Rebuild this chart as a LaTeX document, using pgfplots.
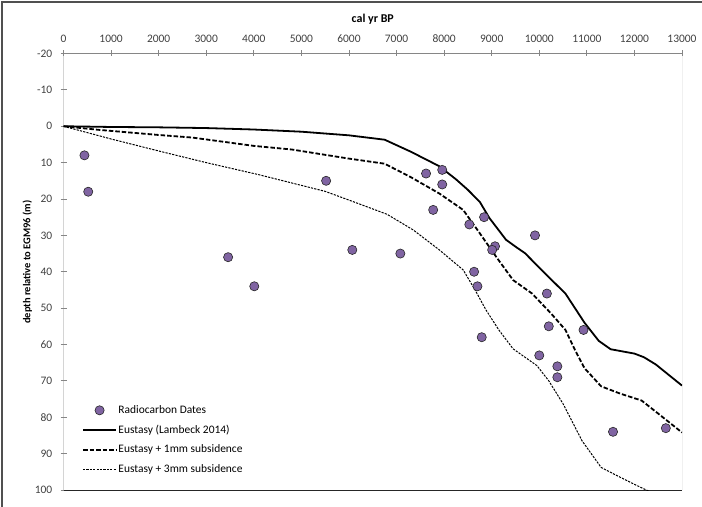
\documentclass[border=0pt]{standalone}
\usepackage{pgfplots}
\pgfplotsset{compat=1.18}
\usepackage{fontspec}
\setmainfont{Carlito}

\definecolor{dotfill}{RGB}{128,100,162}
\definecolor{ticktext}{RGB}{64,64,64}
\definecolor{axisgray}{RGB}{134,134,134}
\definecolor{framegray}{RGB}{80,80,80}

\pgfplotsset{
  lineleg/.style={legend image code/.code={\draw[##1] (0bp,0bp) -- (33bp,0bp);}},
  markleg/.style={legend image code/.code={\draw[##1] plot coordinates {(16.5bp,0bp)};}},
}

% radiocarbon dates: age (cal yr BP) and depth (m)
\pgfplotstableread{
age depth
440 8
520 18
3460 36
4010 44
5520 15
6070 34
7080 35
7620 13
7960 12
7960 16
7770 23
8530 27
8840 25
9070 33
9010 34
9910 30
8630 40
8700 44
10160 46
10200 55
10930 56
8790 58
10000 63
10380 66
10380 69
11550 84
12660 83
}\dates

% Lambeck (2014) eustatic curve
\pgfplotstableread{
age depth
0 0
1000 0.2
2000 0.3
3000 0.5
4000 0.9
5000 1.5
6000 2.5
6750 3.7
7300 7.0
7900 11.0
8250 14.6
8500 17.5
8750 20.8
8950 25.2
9300 31.2
9500 33.1
9700 34.9
10100 40.2
10550 46.0
10950 54.0
11250 59.0
11500 61.3
12000 62.5
12200 63.5
12450 65.5
13000 71.3
}\eustasy

% eustasy plus 1 mm/yr subsidence
\pgfplotstableread{
age depth
0 0
750 1.0
2000 2.4
2700 3.1
4000 5.4
4800 6.4
6000 8.9
6750 10.3
7300 14.0
7900 18.5
8400 23.0
8700 28.5
9100 36.0
9450 42.3
9850 46.0
10250 51.5
10550 56.0
10750 61.5
10950 66.5
11300 71.5
11700 73.5
12150 75.4
12500 79.0
13000 84.2
}\subsone

% eustasy plus 3 mm/yr subsidence
\pgfplotstableread{
age depth
0 0
1000 3.5
2000 6.8
3000 10.0
4100 13.3
5500 17.9
6000 20.3
6800 24.2
7350 28.5
7900 34.0
8400 39.5
8650 45.0
8880 50.5
9150 56.0
9450 61.2
9700 63.5
9950 65.8
10200 70.0
10500 76.3
10900 86.5
11300 93.8
11700 96.5
12150 99.4
12300 100.3
}\substhree

\begin{document}
\begin{tikzpicture}[x=1bp,y=1bp]
\path[use as bounding box] (0,0) rectangle (702,507);
% chart frame
\draw[framegray, line width=1.2bp] (2,0) -- (2,505) -- (702,505);

\begin{axis}[
  at={(63.5bp,17bp)}, anchor=south west,
  width=618.5bp, height=436.5bp, scale only axis,
  xmin=0, xmax=13000, ymin=-20, ymax=100,
  y dir=reverse,
  xtick={0,1000,...,13000}, ytick={-20,-10,...,100},
  xticklabel pos=upper, xtick pos=upper, ytick pos=left,
  scaled x ticks=false,
  /pgf/number format/assume math mode=true,
  /pgf/number format/1000 sep={},
  tick align=center, major tick length=6bp,
  tick style={axisgray, line width=0.9bp},
  axis line style={draw=none},
  ticklabel style={font=\fontsize{11.5}{13}\selectfont, text=ticktext},
  xticklabel style={inner sep=0pt, anchor=south, yshift=8bp},
  yticklabel style={inner sep=0pt, anchor=east, xshift=-8bp},
  xlabel={cal yr BP},
  xlabel style={font=\bfseries\fontsize{12}{14}\selectfont, at={(axis description cs:0.5,1.079)}, anchor=center},
  ylabel={depth relative to EGM96 (m)},
  ylabel style={font=\bfseries\fontsize{10.5}{12}\selectfont, at={(axis description cs:-0.0585,0.522)}, anchor=center},
  legend style={at={(axis description cs:0.0299,0.199)}, anchor=north west,
    draw=none, fill=none, inner sep=0pt, row sep=5.8bp,
    font=\fontsize{11.5}{13}\selectfont,
    nodes={inner sep=1.5bp, text height=8.5bp, text depth=2.5bp}},
  legend cell align=left,
]
% plot frame lines
\draw[axisgray, line width=1bp] (axis cs:0,100) -- (axis cs:0,-20) -- (axis cs:13000,-20) -- (axis cs:13000,100);
\draw[black!85, line width=0.9bp] (axis cs:0,100) -- (axis cs:13000,100);

\addplot[only marks, mark=*, mark size=4.6bp,
  mark options={fill=dotfill, draw=black!85, line width=0.6bp}, markleg]
  table[x=age, y=depth] {\dates};
\addlegendentry{Radiocarbon Dates}

\addplot[black, line width=1.8bp, no marks, lineleg]
  table[x=age, y=depth] {\eustasy};
\addlegendentry{Eustasy (Lambeck 2014)}

\addplot[black, line width=1.8bp, no marks, dash pattern=on 4.5bp off 2bp, lineleg]
  table[x=age, y=depth] {\subsone};
\addlegendentry{Eustasy + 1mm subsidence}

\addplot[black, line width=1bp, no marks, dash pattern=on 2.2bp off 1.2bp, lineleg]
  table[x=age, y=depth] {\substhree};
\addlegendentry{Eustasy + 3mm subsidence}
\end{axis}
\end{tikzpicture}
\end{document}
